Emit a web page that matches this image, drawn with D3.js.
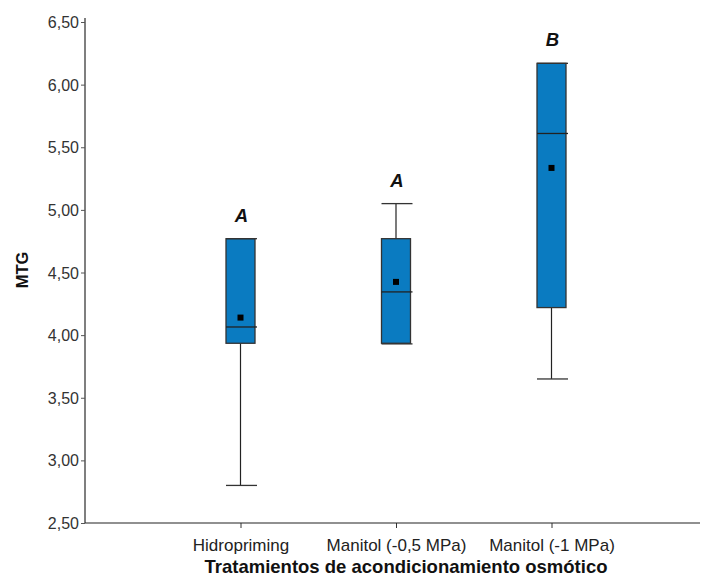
<!DOCTYPE html>
<html><head><meta charset="utf-8">
<script src="https://cdn.jsdelivr.net/npm/d3@7"></script>
<style>body{margin:0;background:#fff}svg{display:block}</style>
</head><body>
<script>
const categories = ["Hidropriming", "Manitol (-0,5 MPa)", "Manitol (-1 MPa)"];
const whiskerLow = [2.80, 3.93, 3.65];
const q1 = [3.935, 3.935, 4.22];
const median = [4.065, 4.345, 5.61];
const q3 = [4.77, 4.77, 6.17];
const whiskerHigh = [4.77, 5.05, 6.17];
const mean = [4.14, 4.425, 5.335];
const letters = ["A", "A", "B"];
const yTicks = [2.5, 3.0, 3.5, 4.0, 4.5, 5.0, 5.5, 6.0, 6.5];

const W = 701, H = 578;
const svg = d3.select("body").append("svg").attr("width", W).attr("height", H);
const font = "Arial, 'Liberation Sans', sans-serif";

const y = d3.scaleLinear().domain([2.5, 6.5]).range([523, 22]);
const x = d3.scalePoint().domain(["", ...categories, " "]).range([85, 707]);
const fmt = d => d.toFixed(2).replace(".", ",");

// Y axis
const ya = svg.append("g").attr("transform", "translate(85,0)")
  .call(d3.axisLeft(y).tickValues(yTicks).tickFormat(fmt).tickSize(4).tickSizeOuter(0));
ya.select(".domain").remove();
ya.selectAll(".tick line").attr("stroke", "#555");
ya.selectAll(".tick text").attr("font-family", font).attr("font-size", 16).attr("fill", "#333").attr("dx", 1).attr("dy", "0.35em");
svg.append("line").attr("x1", 85).attr("x2", 85).attr("y1", 18).attr("y2", 523)
  .attr("stroke", "#555").attr("stroke-width", 1.5);

// X axis
const xa = svg.append("g").attr("transform", "translate(0,523)")
  .call(d3.axisBottom(x).tickValues(categories).tickSize(5).tickSizeOuter(0));
xa.select(".domain").remove();
xa.selectAll(".tick line").attr("stroke", "#333");
xa.selectAll(".tick text").attr("font-family", font).attr("font-size", 17).attr("fill", "#222").attr("y", 28).attr("dy", 0);
svg.append("line").attr("x1", 85).attr("x2", 700).attr("y1", 523).attr("y2", 523)
  .attr("stroke", "#222").attr("stroke-width", 1.2);

// Axis titles
svg.append("text").attr("x", 406).attr("y", 573).attr("text-anchor", "middle")
  .attr("font-family", font).attr("font-weight", "bold").attr("font-size", 18.5).attr("fill", "#111")
  .text("Tratamientos de acondicionamiento osmótico");
svg.append("text").attr("transform", "translate(28,270) rotate(-90)").attr("text-anchor", "middle")
  .attr("font-family", font).attr("font-weight", "bold").attr("font-size", 16.5).attr("fill", "#111")
  .text("MTG");

// Boxes
const bw = 29;
categories.forEach((c, i) => {
  const cx = x(c);
  const g = svg.append("g");
  g.append("line").attr("x1", cx).attr("x2", cx).attr("y1", y(whiskerLow[i])).attr("y2", y(q1[i]))
    .attr("stroke", "#222").attr("stroke-width", 1.2);
  g.append("line").attr("x1", cx).attr("x2", cx).attr("y1", y(whiskerHigh[i])).attr("y2", y(q3[i]))
    .attr("stroke", "#222").attr("stroke-width", 1.2);
  g.append("rect").attr("x", cx - bw / 2).attr("y", y(q3[i])).attr("width", bw)
    .attr("height", y(q1[i]) - y(q3[i])).attr("fill", "#0a7bc1").attr("stroke", "#333").attr("stroke-width", 1.3);
  [whiskerLow[i], whiskerHigh[i]].forEach(v => {
    g.append("line").attr("x1", cx - bw / 2).attr("x2", cx + bw / 2 + 2).attr("y1", y(v)).attr("y2", y(v))
      .attr("stroke", "#333").attr("stroke-width", 1.3);
  });
  g.append("line").attr("x1", cx - bw / 2).attr("x2", cx + bw / 2 + 2).attr("y1", y(median[i])).attr("y2", y(median[i]))
    .attr("stroke", "#222").attr("stroke-width", 1.3);
  g.append("rect").attr("x", cx - 3).attr("y", y(mean[i]) - 3).attr("width", 6).attr("height", 6).attr("fill", "#000");
  g.append("text").attr("x", cx + 1).attr("y", y(whiskerHigh[i]) - 17).attr("text-anchor", "middle")
    .attr("font-family", font).attr("font-weight", "bold").attr("font-style", "italic").attr("font-size", 18.5)
    .attr("fill", "#111").text(letters[i]);
});
</script>
</body></html>
